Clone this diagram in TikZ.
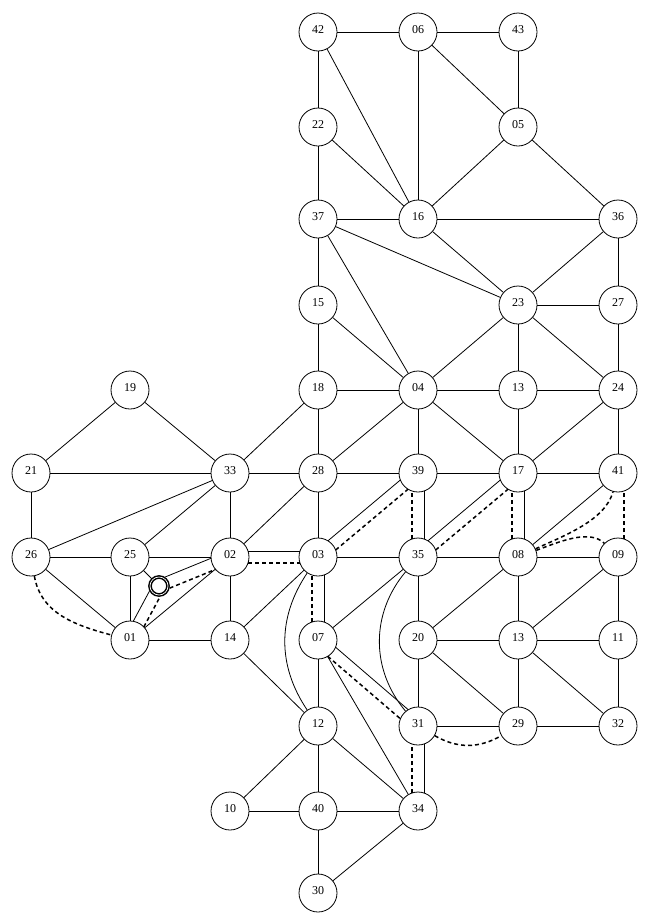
\documentclass[tikz,border=0pt]{standalone}
\usepackage{fontspec}
\setmainfont{Liberation Serif}
\usetikzlibrary{calc}
\newcommand\offedge[5]{\draw[#1] ($(#2)!6pt!#4:(#3)$) -- ($(#3)!6pt!#5:(#2)$);}
\begin{document}
\begin{tikzpicture}[x=1pt,y=1pt,
  vtx/.style={circle, draw, line width=0.8pt, minimum size=38pt, inner sep=0pt,
    font=\fontsize{12}{12}\selectfont, text height=8pt, text depth=6pt, fill=white},
  ring/.style={circle, draw, double, line width=1.5pt, double distance=0.7pt,
    minimum size=18pt, inner sep=0pt},
  edge/.style={line width=0.8pt},
  dsh/.style={line width=1.5pt, dash pattern=on 4pt off 3pt},
  sh/.style={shorten <=18pt, shorten >=18pt},
  shs/.style={shorten <=18pt, shorten >=9pt},
  ssh/.style={shorten <=9pt, shorten >=18pt}]
\useasboundingbox (0,0) rectangle (649,-924);
% nodes
\foreach \nm/\lab/\x/\y in {
  n42/42/318/32, n06/06/418/32, n43/43/518/32,
  n22/22/318/127, n05/05/518/127,
  n37/37/318/219, n16/16/418/219, n36/36/618/219,
  n15/15/318/305, n23/23/518/305, n27/27/618/305,
  n19/19/130/390, n18/18/318/390, n04/04/418/390, n13a/13/518/390, n24/24/618/390,
  n21/21/31/473, n33/33/230/473, n28/28/318/473, n39/39/418/473, n17/17/518/473, n41/41/618/473,
  n26/26/31/557, n25/25/130/557, n02/02/230/557, n03/03/318/557, n35/35/418/557, n08/08/518/557, n09/09/618/557,
  n01/01/130/640, n14/14/230/640, n07/07/318/640, n20/20/418/640, n13b/13/518/640, n11/11/618/640,
  n12/12/318/726, n31/31/418/726, n29/29/518/726, n32/32/618/726,
  n10/10/230/811, n40/40/318/811, n34/34/418/811,
  n30/30/318/893}
  \node[vtx] (\nm) at (\x,-\y) {\lab};
\node[ring] (S) at (159,-586) {};
% single solid edges
\foreach \a/\b in {
  n42/n06, n06/n43, n42/n22, n42/n16, n06/n16, n06/n05, n43/n05, n22/n37, n22/n16,
  n05/n16, n05/n36, n37/n16, n16/n36, n37/n15, n37/n23, n37/n04, n16/n23, n36/n23,
  n36/n27, n23/n27, n15/n18, n15/n04, n23/n04, n23/n13a, n23/n24, n27/n24, n18/n04,
  n04/n13a, n13a/n24, n18/n28, n04/n28, n04/n39, n04/n17, n13a/n17, n24/n17, n24/n41,
  n28/n39, n39/n17, n17/n41, n18/n33,
  n19/n21, n19/n33, n21/n33, n21/n26, n26/n33, n25/n33, n33/n28, n33/n02, n28/n02,
  n26/n25, n25/n02, n26/n01, n25/n01, n25/S, n02/n01, n01/n14, n02/n14, n14/n03, n14/n12,
  n28/n03, n03/n35, n35/n08, n41/n08, n08/n09, n35/n07, n35/n20, n08/n20, n08/n13b,
  n09/n13b, n09/n11, n20/n13b, n13b/n11, n07/n12, n07/n34, n20/n31, n20/n29, n13b/n29,
  n13b/n32, n11/n32, n31/n29, n12/n34, n12/n40, n12/n10, n40/n34, n40/n10, n40/n30,
  n34/n30, n29/n32}
  \draw[edge] (\a) -- (\b);
% curved solid edges
\draw[edge] (n03) to[bend right=34] (n12);
\draw[edge] (n35) to[bend right=40] (n31);
% paired edges: solid + dashed
\offedge{edge,shs}{n01}{S}{90}{-90}
\offedge{dsh,shs}{n01}{S}{-90}{90}
\offedge{edge,ssh}{S}{n02}{90}{-90}
\offedge{dsh,ssh}{S}{n02}{-90}{90}
\offedge{edge,sh}{n02}{n03}{90}{-90}
\offedge{dsh,sh}{n02}{n03}{-90}{90}
\offedge{edge,sh}{n03}{n39}{90}{-90}
\offedge{dsh,sh}{n03}{n39}{-90}{90}
\offedge{dsh,sh}{n35}{n39}{90}{-90}
\offedge{edge,sh}{n35}{n39}{-90}{90}
\offedge{edge,sh}{n35}{n17}{90}{-90}
\offedge{dsh,sh}{n35}{n17}{-90}{90}
\offedge{dsh,sh}{n08}{n17}{90}{-90}
\offedge{edge,sh}{n08}{n17}{-90}{90}
\offedge{dsh,sh}{n09}{n41}{-90}{90}
\offedge{dsh,sh}{n07}{n03}{90}{-90}
\offedge{edge,sh}{n07}{n03}{-90}{90}
\offedge{edge,sh}{n07}{n31}{90}{-90}
\offedge{dsh,sh}{n07}{n31}{-90}{90}
\offedge{dsh,sh}{n34}{n31}{90}{-90}
\offedge{edge,sh}{n34}{n31}{-90}{90}
% dashed curves
\draw[dsh] (n08) to[out=25,in=-105,looseness=0.8] (n41);
\draw[dsh] (n08) to[out=20,in=135,looseness=0.8] (n09);
\draw[dsh] (n31) to[bend right=30] (n29);
\draw[dsh] (n26) to[out=-80,in=165] (n01);
\end{tikzpicture}
\end{document}
